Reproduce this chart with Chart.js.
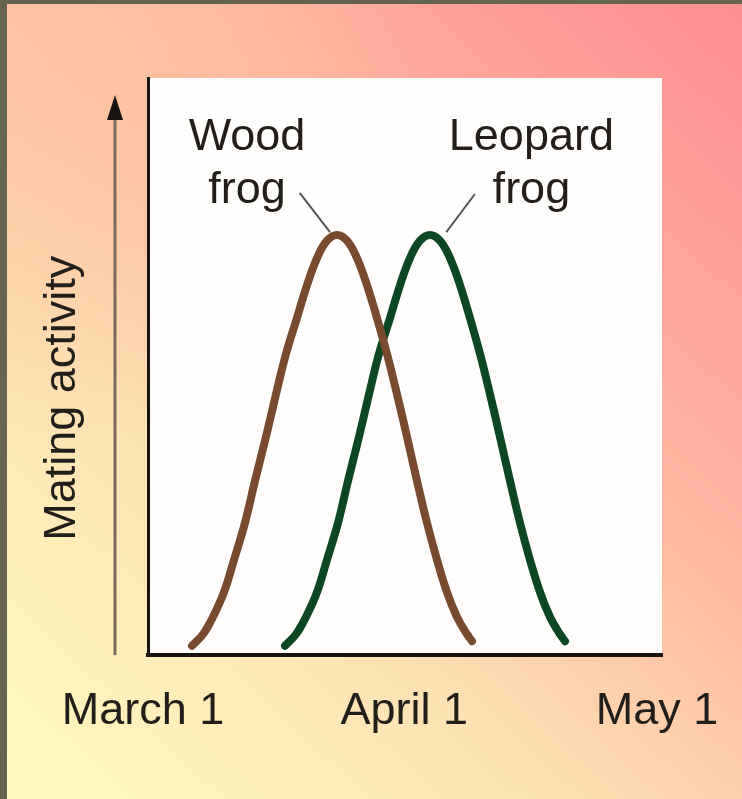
<!DOCTYPE html>
<html>
<head>
<meta charset="utf-8">
<script src="https://cdn.jsdelivr.net/npm/chart.js@4.4.0/dist/chart.umd.min.js"></script>
<style>
html,body{margin:0;padding:0;background:#66644f;}
#wrap{position:absolute;left:0;top:0;width:742px;height:799px;}
</style>
</head>
<body>
<div id="wrap"><canvas id="c" width="742" height="799"></canvas></div>
<script>
// ---- data (days after March 1, mating activity 0-100) ----
const tickDays = [0, 31, 61];
const tickLabels = ["March 1", "April 1", "May 1"];
const woodDays = [5.22, 6.53, 7.71, 9.02, 10.21, 11.51, 12.70, 14.00, 15.19, 16.38, 17.68, 18.87, 20.06, 21.24, 22.43,
                  23.62, 24.80, 25.99, 27.18, 28.36, 29.55, 30.74, 31.92, 33.11, 34.30, 35.48, 36.67, 37.86, 38.45];
const woodActivity = [1.6, 3.6, 6.6, 10.9, 16.5, 22.9, 30.2, 37.8, 45.2, 52.2, 58.4, 64.1, 68.8, 71.8, 72.8,
                      71.8, 68.8, 64.1, 58.4, 52.2, 45.2, 37.8, 30.2, 22.9, 16.5, 10.9, 6.6, 3.6, 2.4];
const leopardDays = [16.26, 17.56, 18.75, 20.06, 21.24, 22.55, 23.74, 25.04, 26.23, 27.41, 28.72, 29.91, 31.09, 32.28, 33.47,
                     34.65, 35.84, 37.03, 38.21, 39.40, 40.59, 41.77, 42.96, 44.15, 45.33, 46.52, 47.71, 48.89, 49.49];
const leopardActivity = [1.6, 3.6, 6.6, 10.9, 16.5, 22.9, 30.2, 37.8, 45.2, 52.2, 58.4, 64.1, 68.8, 71.8, 72.8,
                         71.8, 68.8, 64.1, 58.4, 52.2, 45.2, 37.8, 30.2, 22.9, 16.5, 10.9, 6.6, 3.6, 2.4];
const seriesNames = ["Wood frog", "Leopard frog"];
const yTitle = "Mating activity";

// ---- annotation placement (data coordinates) ----
const labelLines = [["Wood", "frog"], ["Leopard", "frog"]];
const labelAnchor = [{x: 11.75, y: 87.5}, {x: 45.5, y: 87.5}];
const pointerLines = [
  {x1: 18.0, y1: 80.1, x2: 21.6, y2: 73.3},
  {x1: 38.8, y1: 79.9, x2: 35.4, y2: 73.3}
];

const FONT = "'Liberation Sans', Arial, Helvetica, sans-serif";
const TEXT = "#221e1a";

const toXY = (xs, ys) => xs.map((x, i) => ({x: x, y: ys[i]}));

const bgPlugin = {
  id: 'bg',
  beforeDraw(chart) {
    const {ctx, width, height, chartArea} = chart;
    ctx.save();
    const g = ctx.createLinearGradient(0, height, width, 0);
    g.addColorStop(0, '#fffcbe');
    g.addColorStop(0.35, '#fde1b2');
    g.addColorStop(0.6, '#feb9a2');
    g.addColorStop(1, '#ff8d90');
    ctx.fillStyle = g;
    ctx.fillRect(0, 0, width, height);
    const r = ctx.createRadialGradient(60, 60, 0, 60, 60, 380);
    r.addColorStop(0, 'rgba(253,196,160,0.9)');
    r.addColorStop(1, 'rgba(253,196,160,0)');
    ctx.fillStyle = r;
    ctx.fillRect(0, 0, width, height);
    ctx.fillStyle = '#66644f';
    ctx.fillRect(0, 0, width, 4);
    ctx.fillRect(0, 0, 7, height);
    ctx.fillStyle = '#fffefd';
    ctx.fillRect(chartArea.left, chartArea.top, chartArea.right - chartArea.left, chartArea.bottom - chartArea.top);
    ctx.restore();
  },
  afterDraw(chart) {
    const {ctx, chartArea, scales} = chart;
    const xs = scales.x, ys = scales.y;
    ctx.save();
    ctx.strokeStyle = '#555555';
    ctx.lineWidth = 2;
    pointerLines.forEach(p => {
      ctx.beginPath();
      ctx.moveTo(xs.getPixelForValue(p.x1), ys.getPixelForValue(p.y1));
      ctx.lineTo(xs.getPixelForValue(p.x2), ys.getPixelForValue(p.y2));
      ctx.stroke();
    });
    ctx.fillStyle = TEXT;
    ctx.font = "45px " + FONT;
    ctx.textAlign = 'center';
    ctx.textBaseline = 'alphabetic';
    labelLines.forEach((lines, i) => {
      const px = xs.getPixelForValue(labelAnchor[i].x);
      const py = ys.getPixelForValue(labelAnchor[i].y);
      lines.forEach((t, j) => ctx.fillText(t, px, py + j * 53));
    });
    ctx.save();
    ctx.translate(chartArea.left - 85, ys.getPixelForValue(44.5));
    ctx.rotate(-Math.PI / 2);
    ctx.textBaseline = 'middle';
    ctx.fillText(yTitle, 0, 0);
    ctx.restore();
    const ax = chartArea.left - 33;
    ctx.strokeStyle = '#7d6a5c';
    ctx.lineWidth = 3;
    ctx.beginPath();
    ctx.moveTo(ax, chartArea.bottom);
    ctx.lineTo(ax, chartArea.top + 38);
    ctx.stroke();
    ctx.fillStyle = '#1a1410';
    ctx.beginPath();
    ctx.moveTo(ax, chartArea.top + 17);
    ctx.lineTo(ax - 8, chartArea.top + 42);
    ctx.lineTo(ax + 8, chartArea.top + 42);
    ctx.closePath();
    ctx.fill();
    ctx.restore();
  }
};

new Chart(document.getElementById('c'), {
  type: 'line',
  data: {
    datasets: [
      {label: seriesNames[0], data: toXY(woodDays, woodActivity), borderColor: '#7a4a2f', borderWidth: 8},
      {label: seriesNames[1], data: toXY(leopardDays, leopardActivity), borderColor: '#0a4722', borderWidth: 8}
    ]
  },
  options: {
    responsive: false,
    animation: false,
    layout: {padding: {left: 148, right: 80, top: 78, bottom: 58}},
    elements: {
      line: {tension: 0.4, borderCapStyle: 'round', borderJoinStyle: 'round', fill: false},
      point: {radius: 0, hoverRadius: 0}
    },
    datasets: {line: {clip: false}},
    plugins: {legend: {display: false}, tooltip: {enabled: false}},
    scales: {
      x: {
        type: 'linear', min: 0, max: 61,
        afterBuildTicks: (s) => { s.ticks = tickDays.map(v => ({value: v})); },
        ticks: {
          autoSkip: false, maxRotation: 0, padding: 2, labelOffset: -5, color: TEXT,
          font: {family: FONT, size: 45},
          callback: (v) => { const i = tickDays.indexOf(v); return i >= 0 ? tickLabels[i] : ''; }
        },
        grid: {display: true, drawOnChartArea: false, drawTicks: true, tickLength: 28, color: 'rgba(0,0,0,0)'},
        border: {display: true, color: '#1a1410', width: 4}
      },
      y: {
        type: 'linear', min: 0, max: 100,
        ticks: {display: false},
        grid: {display: true, drawOnChartArea: false, drawTicks: false, color: 'rgba(0,0,0,0)'},
        border: {display: true, color: '#1a1410', width: 3}
      }
    }
  },
  plugins: [bgPlugin]
});
</script>
</body>
</html>
